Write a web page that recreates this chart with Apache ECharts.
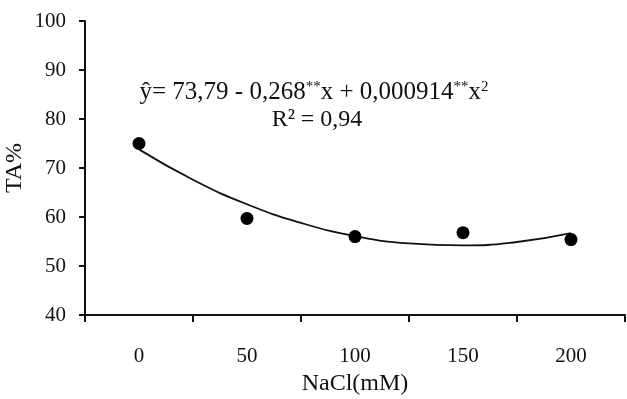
<!DOCTYPE html>
<html>
<head>
<meta charset="utf-8">
<script src="https://cdn.jsdelivr.net/npm/echarts@6/dist/echarts.min.js"></script>
<style>
  html, body { margin: 0; padding: 0; background: #fff; }
  #chart { width: 627px; height: 399px; }
</style>
</head>
<body>
<div id="chart"></div>
<script>
// NaCl levels (mM) and observed TA %
var nacl = [0, 50, 100, 150, 200];
var naclLabels = ['0', '50', '100', '150', '200'];
var taObserved = [75.0, 59.7, 56.0, 56.8, 55.4];

// fitted quadratic curve
var curveX = [0, 25, 50, 75, 100, 125, 150, 175, 200];
var curveY = [73.8, 67.6, 62.6, 58.8, 56.1, 54.6, 54.2, 54.9, 56.7];

var yTicks = { min: 40, max: 100, step: 10 };

var font = 'Liberation Serif';

var pts = [], curve = [], i;
for (i = 0; i < nacl.length; i++) {
  pts.push([nacl[i], taObserved[i]]);
}
for (i = 0; i < curveX.length; i++) {
  curve.push([curveX[i], curveY[i]]);
}

var chart = echarts.init(document.getElementById('chart'));

var options = {
  animation: false,
  backgroundColor: '#fff',
  grid: { left: 85, right: 2, top: 21, bottom: 84, containLabel: false, outerBoundsMode: 'none' },
  graphic: [{
    type: 'text',
    x: 314,
    y: 92,
    style: {
      text: '{a|ŷ= 73,79 - 0,268}{s|**}{a|x + 0,000914}{s|**}{a|x}{s|2}',
      align: 'center',
      verticalAlign: 'middle',
      rich: {
        a: { fontFamily: font, fontSize: 25, fill: '#111', verticalAlign: 'bottom' },
        s: { fontFamily: font, fontSize: 15, fill: '#111', verticalAlign: 'top' }
      }
    }
  }, {
    type: 'text',
    x: 317,
    y: 120,
    style: {
      text: 'R² = 0,94',
      align: 'center',
      verticalAlign: 'middle',
      font: '24px "' + font + '"',
      fill: '#111'
    }
  }],
  xAxis: [{
    type: 'category',
    data: naclLabels,
    boundaryGap: true,
    name: 'NaCl(mM)',
    nameLocation: 'middle',
    nameGap: 53,
    nameTextStyle: { fontFamily: font, fontSize: 24, color: '#111' },
    axisLine: { lineStyle: { color: '#111', width: 2 } },
    axisTick: { show: true, length: 7, inside: false, lineStyle: { color: '#111', width: 2 } },
    axisLabel: { margin: 31, fontFamily: font, fontSize: 21, color: '#111' },
    splitLine: { show: false }
  }, {
    type: 'value',
    min: -25,
    max: 225,
    show: false
  }],
  yAxis: {
    type: 'value',
    min: yTicks.min,
    max: yTicks.max,
    interval: yTicks.step,
    name: 'TA%',
    nameLocation: 'middle',
    nameGap: 58,
    nameRotate: 90,
    nameMoveOverlap: false,
    nameTextStyle: { fontFamily: font, fontSize: 24, color: '#111' },
    axisLine: { show: true, onZero: false, lineStyle: { color: '#111', width: 2 } },
    axisTick: { show: true, length: 6, lineStyle: { color: '#111', width: 2 } },
    axisLabel: { margin: 19, fontFamily: font, fontSize: 21, color: '#111' },
    splitLine: { show: false }
  },
  series: [{
    type: 'line',
    xAxisIndex: 1,
    data: curve,
    smooth: true,
    showSymbol: false,
    lineStyle: { color: '#111', width: 1.8 },
    z: 2
  }, {
    type: 'scatter',
    xAxisIndex: 1,
    data: pts,
    symbol: 'circle',
    symbolSize: 13,
    itemStyle: { color: '#000', opacity: 1 },
    z: 3
  }]
};

chart.setOption(options);
</script>
</body>
</html>
